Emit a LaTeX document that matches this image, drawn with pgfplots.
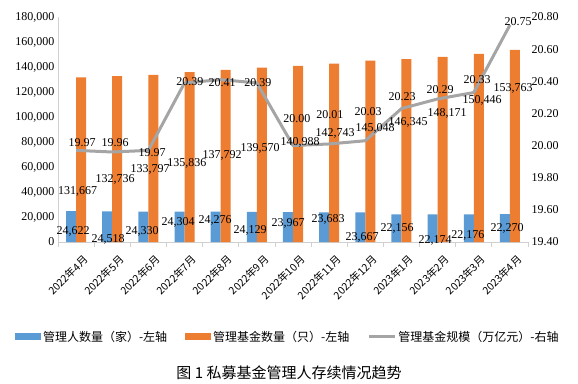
\documentclass[border=0pt]{standalone}
\usepackage{pgfplots}
\pgfplotsset{compat=1.18}
\usepackage{pgfplotstable}
\usepackage{fontspec}
\setmainfont{Liberation Serif}
\newfontfamily\cjk{Noto Sans CJK SC}
\definecolor{cblue}{HTML}{5B9BD5}
\definecolor{corange}{HTML}{ED7D31}
\definecolor{cgray}{HTML}{A5A5A5}
\definecolor{axgray}{HTML}{D0D0D0}
\newcommand\ym[2]{#1年#2月}

\pgfplotstableread{
x mgr fund aum
0 24622 131667 19.97
1 24518 132736 19.96
2 24330 133797 19.97
3 24304 135836 20.39
4 24276 137792 20.41
5 24129 139570 20.39
6 23967 140988 20.00
7 23683 142743 20.01
8 23667 145048 20.03
9 22156 146345 20.23
10 22174 148171 20.29
11 22176 150446 20.33
12 22270 153763 20.75
}\maindata

% label positions (x, y on left scale) and texts
\pgfplotstableread{
x y label
-0.085 8800 24,622
0.883 2400 24,518
1.824 8800 24,330
2.82 16000 24,304
3.843 17600 24,276
4.811 9600 24,129
5.862 15200 23,967
6.969 18400 23,683
7.91 4000 23,667
8.878 11200 22,156
9.93 1600 22,174
10.84 5600 22,176
11.92 11200 22,270
}\mgrlabels

\pgfplotstableread{
x y label
0.04 40800 131,667
1.077 50400 132,736
2.045 58400 133,797
3.068 63200 135,836
4.037 69600 137,792
5.088 75200 139,570
6.194 80000 140,988
7.163 87200 142,743
8.269 91200 145,048
9.182 96000 146,345
10.26 103200 148,171
11.23 113600 150,446
12.09 123200 153,763
}\fundlabels

\pgfplotstableread{
x y label
0.164 79200 19.97
1.077 79200 19.96
2.1 71200 19.97
3.15 128000 20.39
4.037 127200 20.41
5.03 127200 20.39
6.11 98400 20.00
7.02 101600 20.01
8.075 104000 20.03
9.016 116000 20.23
10.067 121600 20.29
11.09 129600 20.33
12.225 176000 20.75
}\aumlabels

\pgfplotsset{
  common/.style={
    at={(58pt,141pt)}, anchor=south west, scale only axis,
    width=470pt, height=225pt, xmin=-0.5, xmax=12.5,
  }
}

\begin{document}
\begin{tikzpicture}
\begin{axis}[common,
  ymin=0, ymax=180000, scaled y ticks=false,
  ytick={0,20000,40000,60000,80000,100000,120000,140000,160000,180000},
  yticklabels={0,{20,000},{40,000},{60,000},{80,000},{100,000},{120,000},{140,000},{160,000},{180,000}},
  axis x line*=bottom, axis y line*=left,
  axis line style={draw=axgray, line width=0.8pt},
  major tick length=0pt,
  xtick={0,...,12},
  xticklabels={\ym{2022}{4},\ym{2022}{5},\ym{2022}{6},\ym{2022}{7},\ym{2022}{8},\ym{2022}{9},\ym{2022}{10},\ym{2022}{11},\ym{2022}{12},\ym{2023}{1},\ym{2023}{2},\ym{2023}{3},\ym{2023}{4}},
  minor xtick={-0.5,0.5,...,12.5},
  minor tick length=5pt, tick align=outside,
  minor tick style={draw=axgray, line width=0.8pt},
  xticklabel style={rotate=45, anchor=east, inner sep=0pt, font=\cjk\fontsize{10.5}{12}\selectfont, xshift=-4pt, yshift=-18pt},
  yticklabel style={font=\fontsize{12}{14}\selectfont},
  legend style={at={(0.489,-0.422)}, anchor=center, draw=none, fill=none,
    legend columns=3, font=\cjk\fontsize{12}{14}\selectfont,
    /tikz/every even column/.append style={column sep=16pt}},
]
\addplot[ybar, bar width=0.277, bar shift=-0.1385, fill=cblue, draw=none,
  legend image code/.code={\fill[cblue] (0pt,-3.5pt) rectangle (26pt,3.5pt);}]
  table[x=x, y=mgr] \maindata;
\addlegendentry{管理人数量（家）-左轴}
\addplot[ybar, bar width=0.277, bar shift=0.1385, fill=corange, draw=none,
  legend image code/.code={\fill[corange] (0pt,-3.5pt) rectangle (26pt,3.5pt);}]
  table[x=x, y=fund] \maindata;
\addlegendentry{管理基金数量（只）-左轴}
\addlegendimage{legend image code/.code={\draw[cgray, line width=3pt] (0pt,0pt) -- (26pt,0pt);}}
\addlegendentry{管理基金规模（万亿元）-右轴}
\end{axis}

\begin{axis}[common,
  ymin=19.4, ymax=20.8,
  ytick={19.4,19.6,19.8,20.0,20.2,20.4,20.6,20.8},
  yticklabels={19.40,19.60,19.80,20.00,20.20,20.40,20.60,20.80},
  axis y line*=right, axis x line=none,
  y axis line style={draw=none},
  major tick length=0pt,
  yticklabel style={font=\fontsize{12}{14}\selectfont},
]
\addplot[cgray, line width=3pt, line join=round, mark=none] table[x=x, y=aum] \maindata;
\end{axis}

\begin{axis}[common, ymin=0, ymax=180000, hide axis, clip=false]
\addplot[draw=none, mark=none, nodes near coords, point meta=explicit symbolic,
  nodes near coords align={center}, every node near coord/.append style={font=\fontsize{12}{14}\selectfont, inner sep=0pt}]
  table[x=x, y=y, meta=label] \mgrlabels;
\addplot[draw=none, mark=none, nodes near coords, point meta=explicit symbolic,
  nodes near coords align={center}, every node near coord/.append style={font=\fontsize{12}{14}\selectfont, inner sep=0pt}]
  table[x=x, y=y, meta=label] \fundlabels;
\addplot[draw=none, mark=none, nodes near coords, point meta=explicit symbolic,
  nodes near coords align={center}, every node near coord/.append style={font=\fontsize{12}{14}\selectfont, inner sep=0pt}]
  table[x=x, y=y, meta=label] \aumlabels;
\end{axis}

\node[font=\cjk\fontsize{15}{17}\selectfont] at (289pt,10pt) {图 1 私募基金管理人存续情况趋势};

\pgfresetboundingbox
\path[use as bounding box] (0,0) rectangle (578pt,383pt);
\end{tikzpicture}
\end{document}
